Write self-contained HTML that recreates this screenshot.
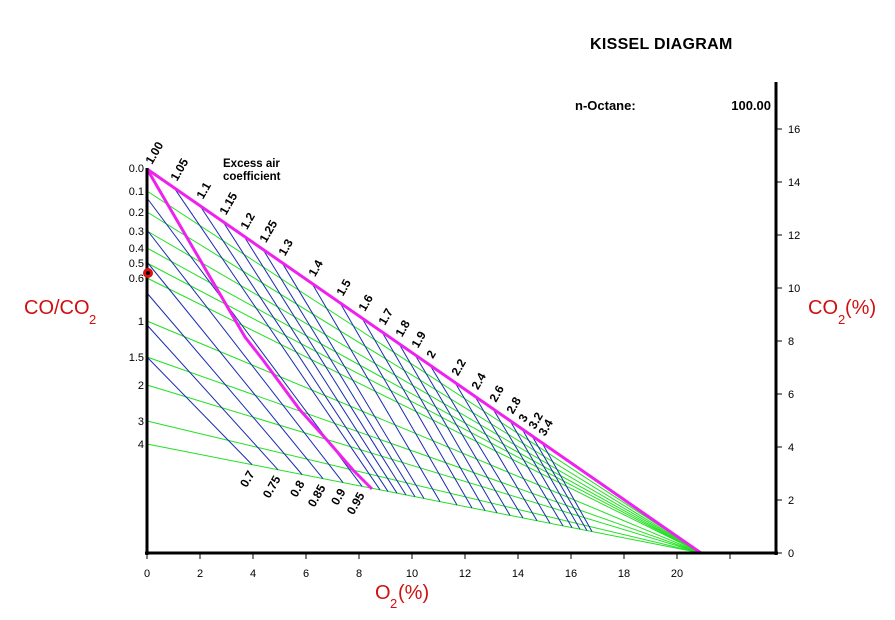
<!DOCTYPE html>
<html><head><meta charset="utf-8"><style>
html,body{margin:0;padding:0;background:#fff;width:895px;height:620px;overflow:hidden}
svg{display:block;font-family:"Liberation Sans","DejaVu Sans",sans-serif}
</style></head><body>
<svg id="s" width="895" height="620" viewBox="0 0 895 620">
<text x="590" y="49" font-size="16" font-weight="bold" letter-spacing="0.3">KISSEL DIAGRAM</text>
<text x="575" y="110" font-size="13" font-weight="bold">n-Octane:</text>
<text x="771" y="110" font-size="13" font-weight="bold" text-anchor="end">100.00</text>
<text x="223" y="167" font-size="11.5" font-weight="bold">Excess air</text>
<text x="223" y="180" font-size="11.5" font-weight="bold">coefficient</text>
<text x="24" y="314" font-size="20" fill="#d01010">CO/CO</text>
<text x="89" y="324" font-size="13" fill="#d01010">2</text>
<text x="808" y="314" font-size="20" fill="#d01010">CO</text>
<text x="838" y="324" font-size="13" fill="#d01010">2</text>
<text x="845" y="314" font-size="20" fill="#d01010">(%)</text>
<text x="375" y="599" font-size="20" fill="#d01010">O</text>
<text x="390" y="608" font-size="13" fill="#d01010">2</text>
<text x="398" y="599" font-size="20" fill="#d01010">(%)</text>
<g id="g"></g>
</svg>
<script>
var g=document.getElementById('g'),NS='http://www.w3.org/2000/svg';
function el(t,a,txt){var e=document.createElementNS(NS,t);for(var k in a)e.setAttribute(k,a[k]);if(txt!==undefined)e.textContent=txt;g.appendChild(e);return e;}
function line(x1,y1,x2,y2,c,w){el('line',{x1:x1,y1:y1,x2:x2,y2:y2,stroke:c,'stroke-width':w});}
var AX=701,AY=553;
function topY(x){return 169+(x-147)*0.6931;}
function botY(x){return 444+(x-147)*(109/554);}
var gl=[[191,'0.1'],[212,'0.2'],[231,'0.3'],[248,'0.4'],[263,'0.5'],[278,'0.6'],[321,'1'],[357,'1.5'],[385,'2'],[421,'3'],[444,'4']];
gl.forEach(function(p){line(147,p[0],AX,AY,'#22e022',1);});
var lo=[[198,362,'0.95'],[230,343,'0.9'],[262,323,'0.85'],[293,302,'0.8'],[325,278,'0.75'],[357,252,'0.7']];
lo.forEach(function(p){var y2=botY(p[1]);line(147,p[0],p[1],y2,'#1a2cb0',1);
 el('text',{x:p[1]+3,y:y2+9,'font-size':12,'font-weight':'bold','text-anchor':'end',transform:'rotate(-60 '+(p[1]+3)+' '+(y2+9)+')'},p[2]);});
var hi=[[174,380,'1.05'],[200,388,'1.1'],[223,397,'1.15'],[244,406,'1.2'],[263,415,'1.25'],[282,424,'1.3'],[312,440,'1.4'],[340,457,'1.5'],[362,472,'1.6'],[382,485,'1.7'],[399,497,'1.8'],[415,510,'1.9'],[430,523,'2'],[455,537,'2.2'],[475,550,'2.4'],[493,563,'2.6'],[510,572,'2.8'],[522,580,'3'],[532,587,'3.2'],[542,592,'3.4']];
hi.forEach(function(p){var y1=topY(p[0]);line(p[0],y1,p[1],botY(p[1]),'#1a2cb0',1);
 el('text',{x:p[0]+3,y:y1-6,'font-size':12,'font-weight':'bold',transform:'rotate(-60 '+(p[0]+3)+' '+(y1-6)+')'},p[2]);});
el('text',{x:152,y:165,'font-size':12,'font-weight':'bold',transform:'rotate(-60 152 165)'},'1.00');
line(147,169,AX,AY,'#ee22ee',3);
el('polyline',{points:'147,169 245,337 263,360 300,410 327,440 353,470 372,489',fill:'none',stroke:'#ee22ee','stroke-width':3});
line(147,168,147,555,'#000',3);
line(145,553,778,553,'#000',3);
line(776,82,776,555,'#000',3);
for(var v=0;v<=22;v+=2){var x=147+26.5*v;line(x,554,x,559,'#000',1);if(v<=20)el('text',{x:x,y:577,'font-size':11,'text-anchor':'middle'},v);}
for(var v=0;v<=16;v+=2){var y=553-26.5*v;line(776,y,782,y,'#000',1);el('text',{x:788,y:y+4,'font-size':11},v);}
el('text',{x:144,y:172,'font-size':11,'text-anchor':'end'},'0.0');
gl.forEach(function(p){el('text',{x:144,y:p[0]+4,'font-size':11,'text-anchor':'end'},p[1]);});
el('circle',{cx:148,cy:273,r:5,fill:'#dd1111'});
el('circle',{cx:148,cy:273,r:2,fill:'#000'});
</script>
</body></html>
